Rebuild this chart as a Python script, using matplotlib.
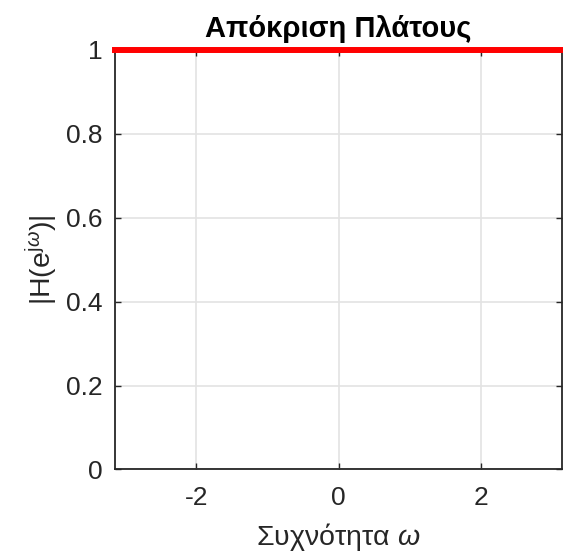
import numpy as np
import matplotlib
matplotlib.use('Agg')
from matplotlib import pyplot as plt

plt.rcParams['font.family'] = ['Liberation Sans', 'DejaVu Sans']
plt.rcParams['mathtext.fontset'] = 'custom'
plt.rcParams['mathtext.rm'] = 'Liberation Sans'
plt.rcParams['mathtext.it'] = 'Liberation Sans:italic'
plt.rcParams['axes.unicode_minus'] = False

# data
omega = [-np.pi, np.pi]
magnitude = [1.0, 1.0]
xticks = [-2, 0, 2]
yticks = [0, 0.2, 0.4, 0.6, 0.8, 1]
ytick_labels = ['0', '0.2', '0.4', '0.6', '0.8', '1']

fig = plt.figure(figsize=(5.63, 5.56), dpi=100)
ax = fig.add_axes([0.2043, 0.1556, 0.794, 0.7545])

ax.plot(omega, magnitude, color='#ff0000', linewidth=4.3, clip_on=False, zorder=5)

ax.set_xlim(-np.pi, np.pi)
ax.set_ylim(0, 1)
ax.set_xticks(xticks)
ax.set_yticks(yticks)
ax.set_yticklabels(ytick_labels)
ax.grid(True, color='#e3e3e3', linewidth=1.2)
ax.set_axisbelow(True)

ax.tick_params(direction='in', length=4, width=1, labelsize=19,
               colors='#262626', top=True, right=True)
ax.tick_params(axis='y', pad=9)
ax.tick_params(axis='x', pad=12)
for s in ax.spines.values():
    s.set_color('#262626')
    s.set_linewidth(1.3)

ax.set_title('Απόκριση Πλάτους', fontsize=21, fontweight='bold', pad=9)
ax.set_xlabel(r'Συχνότητα $\omega$', fontsize=20.5, color='#262626', labelpad=8)
ax.set_ylabel(r'$|\mathrm{H}(\mathrm{e}^{\mathrm{j}\omega})|$', fontsize=20.5,
              color='#262626', labelpad=4)

fig.savefig('out.png', dpi=100)
